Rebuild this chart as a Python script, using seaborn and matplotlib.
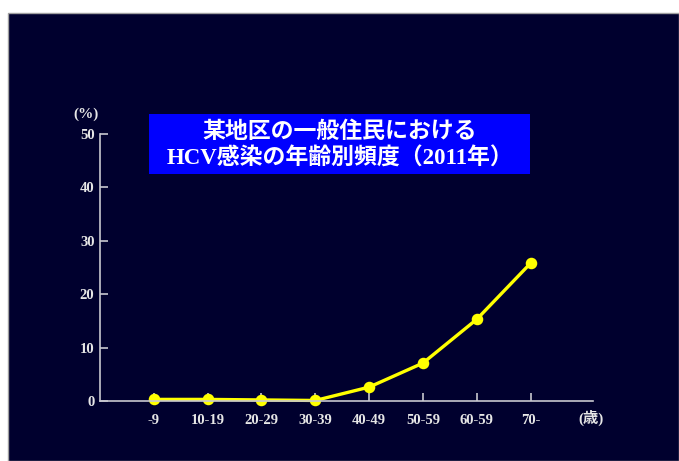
import matplotlib
matplotlib.use("Agg")
import matplotlib.pyplot as plt
from matplotlib.patches import Rectangle
import seaborn as sns

age_groups = ["-9", "10-19", "20-29", "30-39", "40-49", "50-59", "60-59", "70-"]
hcv_rate = [0.3, 0.3, 0.2, 0.1, 2.6, 7.1, 15.3, 25.8]
y_ticks = [0, 10, 20, 30, 40, 50]
title_lines = ["某地区の一般住民における", "HCV感染の年齢別頻度（2011年）"]

sns.set_style("dark")
fonts = ["Liberation Serif", "Noto Sans CJK JP", "DejaVu Sans"]
plt.rcParams["font.family"] = fonts

W, H = 679, 461
BG = "#00002e"
FG = "#e6e6e6"
fig = plt.figure(figsize=(W / 100, H / 100), dpi=100, facecolor="white")
fig.patches.append(Rectangle((8 / W, 0), (W - 8) / W, (H - 13) / H,
                             transform=fig.transFigure, facecolor=BG,
                             edgecolor="#a0a0a0", lw=1, zorder=-10))

ax = fig.add_axes([100 / W, 60 / H, 493 / W, (401 - 134) / H])
ax.set_facecolor("none")

sns.pointplot(x=age_groups, y=hcv_rate, ax=ax, color="#ffff00",
              markers="o", markersize=6.5, linewidth=2.4)
for c in ax.collections + ax.lines:
    c.set_clip_on(False)

ax.set_xlim(-1.0, 8.16)
ax.set_ylim(0, 50)
ax.set_yticks(y_ticks)
ax.grid(False)
for s in ["top", "right"]:
    ax.spines[s].set_visible(False)
for s in ["left", "bottom"]:
    ax.spines[s].set_visible(True)
    ax.spines[s].set_color("#c8c8d0")
    ax.spines[s].set_linewidth(1.2)
ax.tick_params(axis="both", direction="in", length=6, width=1.2,
               color="#c8c8d0", labelcolor=FG, labelsize=10.5)
ax.tick_params(axis="x", pad=9, bottom=True)
ax.tick_params(axis="y", pad=4, left=True)
for lab in ax.get_xticklabels() + ax.get_yticklabels():
    lab.set_fontweight("bold")
ax.set_xlabel("")
ax.set_ylabel("")

fig.text(86 / W, 1 - 114 / H, "(%)", color=FG, fontsize=11,
         fontweight="bold", ha="center", va="center", family=fonts)
fig.text(591 / W, 1 - 418 / H, "(歳)", color=FG, fontsize=11,
         fontweight="bold", ha="center", va="center", family=fonts)

fig.patches.append(Rectangle((149 / W, 1 - 174 / H), 381 / W, 60 / H,
                             transform=fig.transFigure, facecolor="#0000ff",
                             edgecolor="none", zorder=5))
fig.text(340 / W, 1 - 132 / H, title_lines[0], color="white", fontsize=16.5,
         fontweight="bold", ha="center", va="center", family=fonts, zorder=6)
fig.text(340 / W, 1 - 159 / H, title_lines[1], color="white", fontsize=16.5,
         fontweight="bold", ha="center", va="center", family=fonts, zorder=6)

fig.savefig("out.png", dpi=100, facecolor="white")
